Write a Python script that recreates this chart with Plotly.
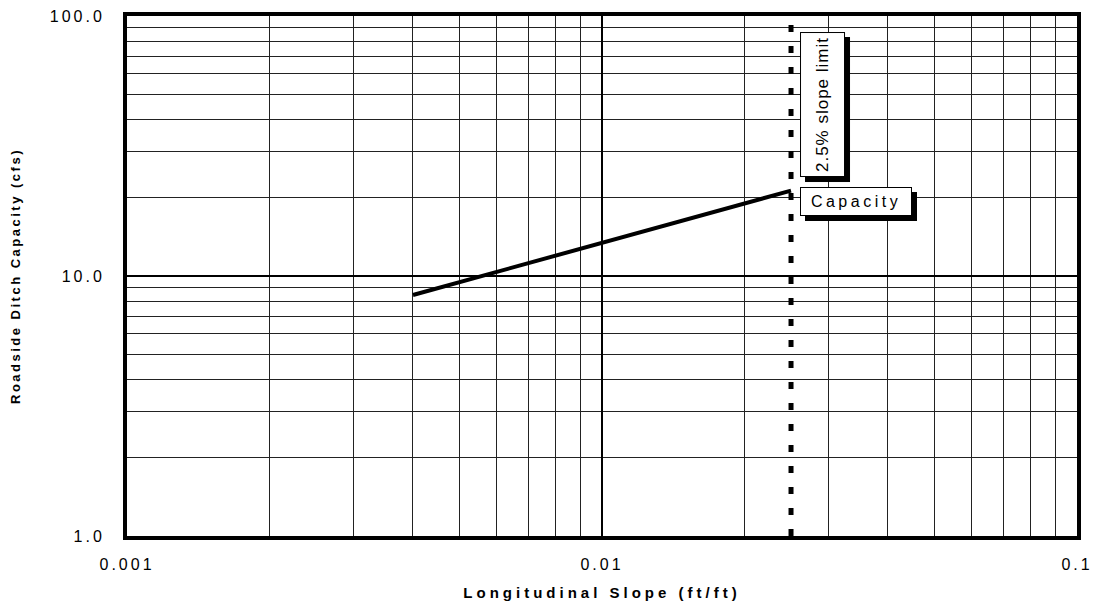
import math
import plotly.graph_objects as go

# Ditch capacity curve (Manning-type relation read at a few slopes)
slope = [0.004, 0.01, 0.025]
capacity = [8.45, 13.4, 21.3]

slope_limit = 0.025

x_major = [0.001, 0.01, 0.1]
x_major_text = ["0.001", "0.01", "0.1"]
x_minor = [m * d for d in (0.001, 0.01) for m in range(2, 10)]

y_major = [1, 10, 100]
y_major_text = ["1.0", "10.0", "100.0"]
y_minor = [m * d for d in (1, 10) for m in range(2, 10)]

FONT = "Arial, Liberation Sans, sans-serif"


def spaced(text, px):
    return f'<span style="letter-spacing:{px}px">{text}</span>'


fig = go.Figure()

fig.add_trace(go.Scatter(
    x=slope, y=capacity, mode="lines",
    line=dict(color="black", width=4),
    showlegend=False, hoverinfo="skip",
))

# 2.5% slope limit, thick dotted vertical line
fig.add_shape(
    type="line", xref="x", yref="paper",
    x0=slope_limit, x1=slope_limit, y0=0, y1=1,
    line=dict(color="black", width=5, dash="7px,14px"),
    layer="above",
)


# Boxed labels with a solid drop shadow behind them
def boxed(text, x, y, xanchor, yanchor, xshift, yshift, angle, w, h, size, spacing):
    # shadow: same fixed-size box, offset down-right
    fig.add_annotation(
        x=x, y=y, xref="x", yref="y", text=" ", showarrow=False,
        xanchor=xanchor, yanchor=yanchor, xshift=xshift + 5, yshift=yshift - 5,
        textangle=angle, width=w, height=h,
        font=dict(family=FONT, size=size, color="black"),
        bgcolor="black", bordercolor="black", borderwidth=1, borderpad=0,
    )
    fig.add_annotation(
        x=x, y=y, xref="x", yref="y", text=spaced(text, spacing), showarrow=False,
        xanchor=xanchor, yanchor=yanchor, xshift=xshift, yshift=yshift,
        textangle=angle, width=w, height=h,
        font=dict(family=FONT, size=size, color="black"),
        bgcolor="white", bordercolor="black", borderwidth=1, borderpad=0,
    )


boxed("2.5% slope limit", math.log10(slope_limit), math.log10(100), "left", "top",
      9, -16, -90, 143, 43, 17, 1)
boxed("Capacity", math.log10(slope_limit), math.log10(capacity[-1]), "left", "top",
      9, 4, 0, 110, 27, 16, 3.5)

axis_common = dict(
    type="log", showline=True, linecolor="black", linewidth=4, mirror=True,
    showgrid=True, gridcolor="black", gridwidth=2, zeroline=False,
    ticks="", tickfont=dict(family=FONT, size=16, color="black"),
    automargin=False,
)

fig.update_xaxes(
    range=[-3, -1],
    tickvals=x_major, ticktext=[spaced(t, 3) for t in x_major_text],
    ticklabelstandoff=11,
    minor=dict(tickvals=x_minor, showgrid=True, gridcolor="#222", gridwidth=1, ticks=""),
    title=dict(text=spaced("<b>Longitudinal Slope (ft/ft)</b>", 4),
               font=dict(family=FONT, size=15, color="black"), standoff=16),
    **axis_common,
)
fig.update_yaxes(
    range=[0, 2],
    tickvals=y_major, ticktext=[spaced(t, 3) for t in y_major_text],
    ticklabelstandoff=15,
    minor=dict(tickvals=y_minor, showgrid=True, gridcolor="#222", gridwidth=1, ticks=""),
    title=dict(text=spaced("<b>Roadside Ditch Capacity (cfs)</b>", 2.5),
               font=dict(family=FONT, size=13, color="black"), standoff=27),
    **axis_common,
)

fig.update_layout(
    width=1094, height=610,
    margin=dict(l=127, r=17, t=16, b=74),
    paper_bgcolor="white", plot_bgcolor="white",
    font=dict(family=FONT, color="black"),
)

fig.write_html("out.html")
